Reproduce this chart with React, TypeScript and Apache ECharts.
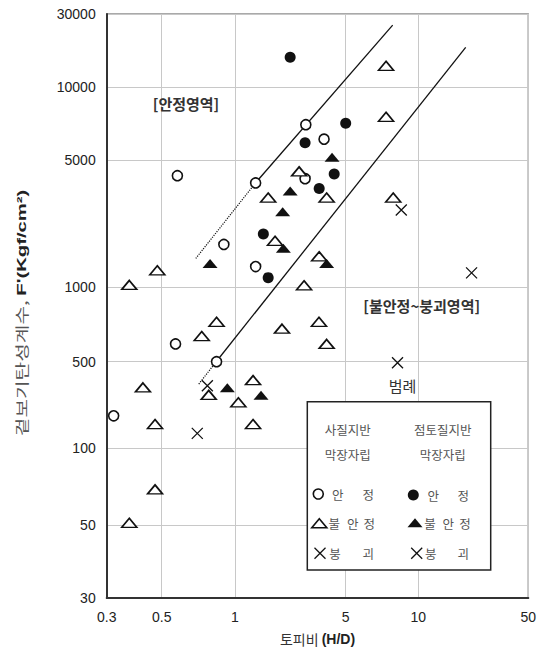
import React, { useEffect, useRef } from "react";
import * as echarts from "echarts";

// ---------- axis ticks ----------
const X_TICKS = [0.3, 0.5, 1, 5, 10, 50];
const X_TICK_LABELS = ["0.3", "0.5", "1", "5", "10", "50"];
const Y_TICKS = [30, 50, 100, 500, 1000, 5000, 10000, 30000];
const Y_TICK_LABELS = ["30", "50", "100", "500", "1000", "5000", "10000", "30000"];

// ---------- data (H/D, F') ----------
// 사질지반 막장자립 안정 (open circles)
const sandStableHD = [0.32, 0.57, 0.84, 0.58, 0.9, 1.35, 1.35, 2.8, 2.77, 3.65];
const sandStableF = [183, 590, 500, 4100, 1720, 1300, 3740, 7000, 3950, 6100];
// 점토질지반 막장자립 안정 (filled circles)
const clayStableHD = [2.23, 2.77, 5.0, 4.23, 3.4, 1.51, 1.62];
const clayStableF = [15700, 5900, 7100, 4190, 3490, 1960, 1130];
// 사질지반 불안정 (open triangles)
const sandUnstableHD = [7.35, 7.35, 2.54, 1.62, 3.79, 7.87, 1.79, 3.4, 0.48, 0.37, 2.73, 0.84, 0.73, 1.98, 3.39, 3.79, 0.42, 0.78, 1.3, 1.05, 0.47, 1.3, 0.47, 0.37];
const sandUnstableF = [13800, 7550, 4330, 3110, 3110, 3110, 1800, 1480, 1240, 1030, 1025, 725, 635, 680, 725, 590, 310, 270, 355, 235, 157, 157, 69, 51];
// 점토질지반 불안정 (filled triangles)
const clayUnstableHD = [4.1, 2.23, 2.0, 2.02, 3.79, 0.79, 0.93, 1.46];
const clayUnstableF = [5130, 3380, 2600, 1640, 1350, 1350, 308, 268];
// 붕괴 (crosses)
const sandCollapseHD = [0.7, 0.77];
const sandCollapseF = [132, 320];
const clayCollapseHD = [8.5, 21.8, 8.2];
const clayCollapseF = [2660, 1200, 490];

// boundary lines
const stableLineHD = [1.35, 7.83];
const stableLineF = [3750, 25400];
const stableLineExtHD = [0.69, 1.35];
const stableLineExtF = [1440, 3750];
const failLineHD = [0.84, 20];
const failLineF = [502, 18200];
const failLineExtHD = [0.71, 0.84];
const failLineExtF = [330, 502];

// ---------- layout: the reference's non-uniform placement of the tick values ----------
const X_TICK_POS = [0, 55, 128.3, 239, 311.6, 421.6];
const Y_TICK_POS = [0, 73, 149.7, 236.3, 310.7, 438, 510.7, 584];

function warp(v: number, ticks: number[], pos: number[]): number {
  for (let i = 0; i < ticks.length - 1; i++) {
    if (v <= ticks[i + 1] || i === ticks.length - 2) {
      const t = Math.log(v / ticks[i]) / Math.log(ticks[i + 1] / ticks[i]);
      return pos[i] + (pos[i + 1] - pos[i]) * t;
    }
  }
  return pos[pos.length - 1];
}
const wx = (v: number) => warp(v, X_TICKS, X_TICK_POS);
const wy = (v: number) => warp(v, Y_TICKS, Y_TICK_POS);
const pts = (xs: number[], ys: number[]) => xs.map((x, i) => [wx(x), wy(ys[i])]);

const KR = '"Noto Sans CJK KR", sans-serif';
const LAT = '"Liberation Sans", Arial, sans-serif';
const INK = "#111";

function txt(text: string, x: number, y: number, size: number, fill: string, weight: string = "normal", family: string = KR) {
  return {
    type: "text",
    x,
    y,
    z: 20,
    style: { text, align: "center", verticalAlign: "middle", fontSize: size, fontFamily: family, fontWeight: weight, fill },
  };
}

export default function App() {
  const ref = useRef<HTMLDivElement>(null);
  useEffect(() => {
    if (!ref.current) return;
    const chart = echarts.init(ref.current, undefined, { renderer: "svg" });

    const labelFmt = (posArr: number[], labels: string[]) => (val: number) => {
      const i = posArr.findIndex((p) => Math.abs(p - val) < 0.05);
      return i >= 0 ? labels[i] : "";
    };

    const legendX = 307.3, legendY = 401.7, legendW = 183.4, legendH = 168.3;
    const triPts = (cx: number, cy: number) => [[cx - 7.5, cy + 4.5], [cx + 7.5, cy + 4.5], [cx, cy - 4.5]];
    const cross = (cx: number, cy: number) => [
      { type: "line", z: 20, shape: { x1: cx - 5.5, y1: cy - 5.5, x2: cx + 5.5, y2: cy + 5.5 }, style: { stroke: INK, lineWidth: 1.3 } },
      { type: "line", z: 20, shape: { x1: cx + 5.5, y1: cy - 5.5, x2: cx - 5.5, y2: cy + 5.5 }, style: { stroke: INK, lineWidth: 1.3 } },
    ];
    const legendFont = 12.5;
    const legendColor = "#555";

    const option: any = {
      animation: false,
      backgroundColor: "#fff",
      grid: {
        left: 106.7,
        top: 14,
        width: 421.6,
        height: 584,
        show: true,
        borderColor: "#555",
        borderWidth: 1.2,
        backgroundColor: "transparent",
      },
      xAxis: {
        type: "value",
        min: 0,
        max: X_TICK_POS[X_TICK_POS.length - 1],
        axisLine: { show: true, lineStyle: { color: "#333", width: 2 } },
        axisTick: { show: false, customValues: X_TICK_POS },
        axisLabel: {
          customValues: X_TICK_POS,
          formatter: labelFmt(X_TICK_POS, X_TICK_LABELS),
          margin: 12,
          fontSize: 14,
          fontFamily: LAT,
          color: "#222",
        },
        splitLine: { show: true, lineStyle: { color: "#c8c8c8", width: 1 } },
        name: "{a|토피비 }{b|(H/D)}",
        nameLocation: "middle",
        nameGap: 34,
        nameTextStyle: {
          rich: {
            a: { fontFamily: KR, fontSize: 14, color: "#333" },
            b: { fontFamily: LAT, fontSize: 14, fontWeight: "bold", color: "#222" },
          },
        },
      },
      yAxis: {
        type: "value",
        min: 0,
        max: Y_TICK_POS[Y_TICK_POS.length - 1],
        axisLine: { show: true, lineStyle: { color: "#333", width: 2 } },
        axisTick: { show: false, customValues: Y_TICK_POS },
        axisLabel: {
          customValues: Y_TICK_POS,
          formatter: labelFmt(Y_TICK_POS, Y_TICK_LABELS),
          margin: 11,
          fontSize: 14,
          fontFamily: LAT,
          color: "#222",
        },
        splitLine: { show: true, lineStyle: { color: "#c8c8c8", width: 1 } },
      },
      graphic: [
        {
          type: "text",
          x: 21,
          y: 313,
          rotation: Math.PI / 2,
          scaleX: 1.5,
          z: 20,
          style: {
            text: "{a|겉보기탄성계수, }{b|F'(Kgf/cm²)}",
            align: "center",
            verticalAlign: "middle",
            rich: {
              a: { fontFamily: KR, fontSize: 13.5, fill: "#555" },
              b: { fontFamily: LAT, fontSize: 13.5, fontWeight: "bold", fill: "#222" },
            },
          },
        },
        txt("[안정영역]", 186, 103, 15, "#333", "bold"),
        txt("[불안정~붕괴영역]", 421.7, 305, 15, "#333", "bold"),
        txt("범례", 402.5, 385, 15, "#333"),
        {
          type: "rect",
          z: 15,
          shape: { x: legendX, y: legendY, width: legendW, height: legendH },
          style: { fill: "#fff", stroke: "#222", lineWidth: 1.5 },
        },
        txt("사질지반", 347.7, 429, legendFont, legendColor),
        txt("점토질지반", 442.7, 429, legendFont, legendColor),
        txt("막장자립", 347.7, 454.3, legendFont, legendColor),
        txt("막장자립", 442.7, 454.3, legendFont, legendColor),
        { type: "circle", z: 20, shape: { cx: 318.3, cy: 494, r: 5 }, style: { fill: "#fff", stroke: INK, lineWidth: 1.6 } },
        txt("안", 337.7, 494, legendFont, legendColor),
        txt("정", 368.3, 494, legendFont, legendColor),
        { type: "circle", z: 20, shape: { cx: 413.3, cy: 495, r: 5.5 }, style: { fill: INK } },
        txt("안", 433.3, 495, legendFont, legendColor),
        txt("정", 463.3, 495, legendFont, legendColor),
        { type: "polygon", z: 20, shape: { points: triPts(319.3, 523.3) }, style: { fill: "#fff", stroke: INK, lineWidth: 1.6 } },
        txt("불", 334.3, 523, legendFont, legendColor),
        txt("안", 352.7, 523, legendFont, legendColor),
        txt("정", 369.3, 523, legendFont, legendColor),
        { type: "polygon", z: 20, shape: { points: triPts(415, 522.7) }, style: { fill: INK } },
        txt("불", 430, 523, legendFont, legendColor),
        txt("안", 448.3, 523, legendFont, legendColor),
        txt("정", 465, 523, legendFont, legendColor),
        ...cross(320, 553.3),
        txt("붕", 335, 553.3, legendFont, legendColor),
        txt("괴", 368.3, 553.3, legendFont, legendColor),
        ...cross(416.7, 553.3),
        txt("붕", 430.7, 553.3, legendFont, legendColor),
        txt("괴", 463.3, 553.3, legendFont, legendColor),
      ],
      series: [
        { type: "line", z: 1, data: pts(stableLineHD, stableLineF), symbol: "none", lineStyle: { color: INK, width: 1.3 } },
        { type: "line", z: 1, data: pts(stableLineExtHD, stableLineExtF), symbol: "none", lineStyle: { color: INK, width: 1.2, type: "dotted" } },
        { type: "line", z: 1, data: pts(failLineHD, failLineF), symbol: "none", lineStyle: { color: INK, width: 1.3 } },
        { type: "line", z: 1, data: pts(failLineExtHD, failLineExtF), symbol: "none", lineStyle: { color: INK, width: 1.2, type: "dotted" } },
        {
          type: "scatter", z: 3, data: pts(sandStableHD, sandStableF), symbol: "circle", symbolSize: 10,
          itemStyle: { color: "#fff", borderColor: INK, borderWidth: 1.6, opacity: 1 },
        },
        {
          type: "scatter", z: 3, data: pts(clayStableHD, clayStableF), symbol: "circle", symbolSize: 11,
          itemStyle: { color: INK, opacity: 1 },
        },
        {
          type: "scatter", z: 3, data: pts(sandUnstableHD, sandUnstableF), symbol: "triangle", symbolSize: [15, 9],
          itemStyle: { color: "#fff", borderColor: INK, borderWidth: 1.6, opacity: 1 },
        },
        {
          type: "scatter", z: 3, data: pts(clayUnstableHD, clayUnstableF), symbol: "triangle", symbolSize: [15, 9],
          itemStyle: { color: INK, opacity: 1 },
        },
        {
          type: "scatter", z: 3, data: pts(sandCollapseHD, sandCollapseF), symbol: "path://M0,0L10,10M10,0L0,10", symbolSize: 11,
          itemStyle: { color: "none", borderColor: INK, borderWidth: 1.3, opacity: 1 },
        },
        {
          type: "scatter", z: 3, data: pts(clayCollapseHD, clayCollapseF), symbol: "path://M0,0L10,10M10,0L0,10", symbolSize: 11,
          itemStyle: { color: "none", borderColor: INK, borderWidth: 1.3, opacity: 1 },
        },
      ],
    };
    chart.setOption(option);
    return () => chart.dispose();
  }, []);

  return <div ref={ref} style={{ position: "fixed", left: 0, top: 0, width: 541, height: 658, background: "#fff" }} />;
}
